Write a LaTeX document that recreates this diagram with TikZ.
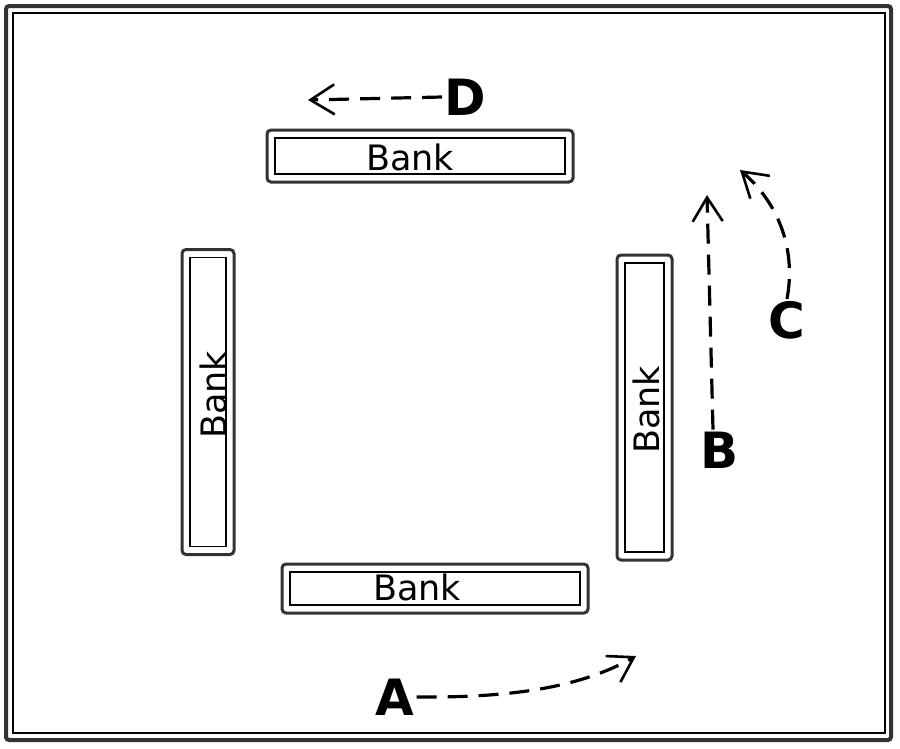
\documentclass[tikz,border=0pt]{standalone}
\usepackage{fontspec}
\setmainfont{DejaVu Sans}
\usetikzlibrary{arrows.meta}
\begin{document}
\begin{tikzpicture}[x=1pt,y=-1pt,
  bankbox/.style={draw=black!80, line width=3pt, rounded corners=4pt, inner sep=0pt, outer sep=0pt},
  banktext/.style={font=\fontsize{35}{35}\selectfont, inner sep=0pt},
  letter/.style={font=\fontsize{50}{50}\selectfont\bfseries, inner sep=2pt},
  move/.style={line width=3.2pt, dash pattern=on 20pt off 11pt, -{Straight Barb[length=24pt,width=30pt,line width=2.6pt]}}
]
\useasboundingbox (0,0) rectangle (900,748);
% frame
\draw[black!80, line width=4pt, rounded corners=3pt] (6,6) rectangle (891,740);
\draw[line width=1.2pt] (13,13) rectangle (885,733);

% bank boxes
\node[bankbox, minimum width=306pt, minimum height=52pt] (topbank) at (420,156) {};
\node[bankbox, minimum width=306pt, minimum height=49pt] (botbank) at (435,588.5) {};
\node[bankbox, minimum width=52pt, minimum height=305pt] (leftbank) at (208,402) {};
\node[bankbox, minimum width=55pt, minimum height=305pt] (rightbank) at (644.5,407.5) {};
\foreach \b in {topbank,botbank,leftbank,rightbank}{
  \draw[line width=1.2pt] ([shift={(8,8)}]\b.north west) rectangle ([shift={(-8,-8)}]\b.south east);
}
\node[banktext] (toptext) at (410,157) {Bank};
\node[banktext] (bottext) at (417,587) {Bank};
\node[banktext, rotate=90] (lefttext) at (213,395) {Bank};
\node[banktext, rotate=90] (righttext) at (646,410) {Bank};

% labels
\node[letter] (D) at (465,97) {D};
\node[letter] (B) at (720,450) {B};
\node[letter] (C) at (787,320) {C};
\node[letter] (A) at (395,697) {A};
\coordinate (Dend) at (308,100);
\coordinate (Bend) at (707,195);
\coordinate (Cend) at (740,170);
\coordinate (Aend) at (636,656);

\draw[move] (D.west) -- (Dend);
\draw[move] ([xshift=-7pt]B.north) -- (Bend);
\draw[move] (C.north) .. controls (797,245) and (775,200) .. (Cend);
\draw[move] (A.east) .. controls (520,698) and (585,685) .. (Aend);
\end{tikzpicture}
\end{document}
